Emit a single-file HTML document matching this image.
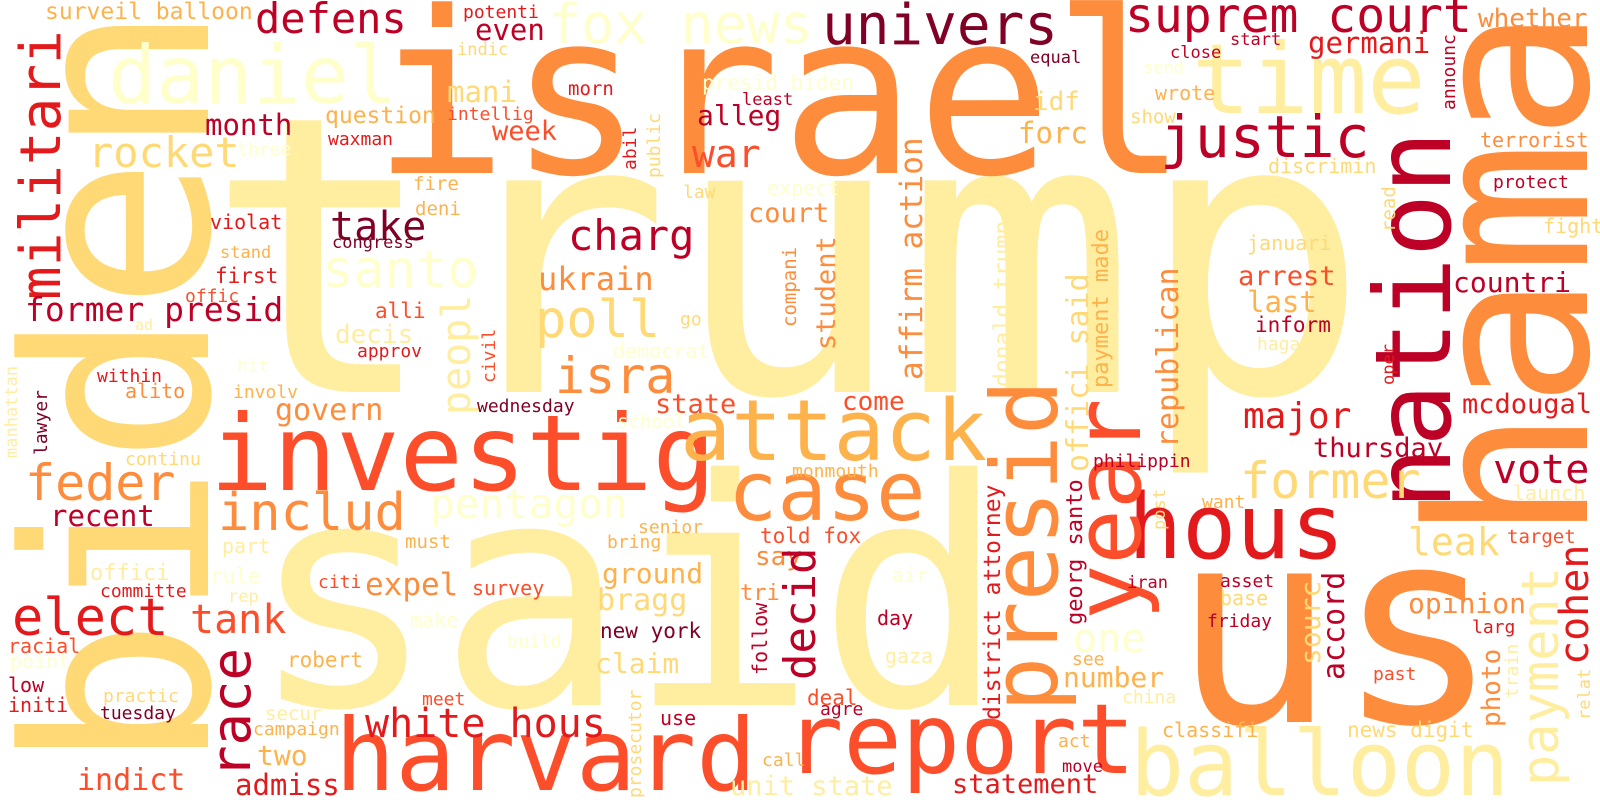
<!DOCTYPE html>
<html><head><meta charset="utf-8"><title>Word cloud</title>
<style>
html,body{margin:0;padding:0;background:#fff;}
svg{display:block;}
text{font-family:"DejaVu Sans Mono","Liberation Mono",monospace;}
</style></head>
<body>
<svg id="cloud" width="1600" height="800" viewBox="0 0 1600 800" xmlns="http://www.w3.org/2000/svg">
<rect x="0" y="0" width="1600" height="800" fill="#ffffff"/>
</svg>
<script>
const palette = {A:"#ffffcc",B:"#ffeda0",C:"#fed976",D:"#feb24c",E:"#fd8d3c",F:"#fc4e2a",G:"#e31a1c",H:"#bd0026",I:"#800026"};
// [word, x, baseline y, font-size, colour key, vertical?]
const words = [
["trump",205,392,387,"B",0],
["israel",372,173,226,"E",0],
["said",248,705,315,"B",0],
["biden",208,771,255,"C",1],
["hama",1587,542,222,"E",1],
["us",1172,722,272,"E",0],
["investig",210,490,105,"F",0],
["harvard",335,790,100,"F",0],
["report",785,773,97,"F",0],
["balloon",1130,795,90,"B",0],
["attack",680,460,85,"D",0],
["case",728,520,82,"E",0],
["hous",1128,558,90,"G",0],
["presid",1057,712,92,"E",1],
["year",1140,620,92,"F",1],
["nation",1450,510,105,"H",1],
["daniel",108,103,80,"A",0],
["fox news",548,43,55,"A",0],
["univers",822,44,56,"I",0],
["suprem court",1125,32,48,"H",0],
["time",1192,113,97,"B",0],
["justic",1160,157,58,"H",0],
["defens",255,33,42,"H",0],
["surveil balloon",45,19,23,"D",0],
["militari",60,300,56,"G",1],
["rocket",88,167,42,"C",0],
["month",205,135,29,"H",0],
["question",325,123,23,"D",0],
["waxman",328,145,18,"G",0],
["three",237,155,18,"A",0],
["take",330,240,40,"I",0],
["congress",332,248,17,"I",0],
["santo",322,287,52,"A",0],
["violat",210,229,20,"G",0],
["stand",220,258,17,"D",0],
["first",215,283,21,"G",0],
["offic",185,302,18,"F",0],
["former presid",25,321,33,"H",0],
["ad",135,330,15,"B",0],
["alli",375,318,21,"F",0],
["decis",335,343,26,"B",0],
["approv",357,357,18,"G",0],
["hit",237,372,18,"A",0],
["within",97,382,18,"G",0],
["alito",125,398,20,"E",0],
["involv",233,398,18,"D",0],
["manhattan",17,458,17,"B",1],
["lawyer",47,455,18,"I",1],
["govern",275,420,30,"E",0],
["continu",125,465,18,"C",0],
["feder",25,500,50,"E",0],
["includ",218,530,52,"E",0],
["recent",50,526,29,"H",0],
["part",222,553,20,"B",0],
["offici",90,580,22,"B",0],
["rule",210,583,21,"A",0],
["committe",100,597,18,"G",0],
["rep",228,602,17,"B",0],
["citi",318,588,18,"F",0],
["expel",365,595,31,"E",0],
["elect",12,635,52,"G",0],
["tank",190,633,40,"F",0],
["race",250,778,54,"H",1],
["racial",8,653,20,"F",0],
["point",10,668,20,"A",0],
["low",8,692,20,"H",0],
["initi",8,712,20,"G",0],
["practic",103,702,18,"C",0],
["tuesday",100,719,18,"I",0],
["robert",287,667,21,"D",0],
["secur",265,720,19,"B",0],
["campaign",253,735,18,"D",0],
["two",257,765,28,"D",0],
["indict",77,790,30,"F",0],
["admiss",235,795,29,"G",0],
["white hous",365,737,40,"G",0],
["pentagon",430,518,41,"A",0],
["peopl",470,415,40,"B",1],
["wednesday",477,412,18,"I",0],
["state",655,413,27,"F",0],
["school",617,428,19,"A",0],
["must",405,548,19,"D",0],
["senior",638,533,18,"D",0],
["bring",607,548,18,"D",0],
["ground",602,583,28,"D",0],
["survey",472,595,20,"F",0],
["bragg",597,610,30,"C",0],
["make",410,627,20,"A",0],
["new york",600,638,21,"I",0],
["build",507,647,18,"A",0],
["claim",595,673,28,"C",0],
["meet",422,705,18,"F",0],
["prosecutor",641,798,18,"C",1],
["use",660,725,20,"H",0],
["call",762,766,18,"D",0],
["unit state",730,795,27,"B",0],
["told fox",760,543,21,"F",0],
["say",755,565,26,"E",0],
["tri",740,600,22,"E",0],
["follow",767,675,20,"H",1],
["decid",815,680,44,"H",1],
["come",842,410,26,"F",0],
["monmouth",792,477,18,"D",0],
["air",892,582,20,"A",0],
["day",877,625,20,"H",0],
["gaza",885,663,20,"B",0],
["deal",807,705,21,"F",0],
["agre",820,715,18,"H",0],
["district attorney",1000,720,23,"G",1],
["georg santo",1082,625,22,"H",1],
["offici said",1088,472,30,"C",1],
["donald trump",1010,387,23,"B",1],
["payment made",1108,388,22,"D",1],
["palestinian",937,357,18,"B",1],
["affirm action",922,380,31,"E",1],
["student",835,350,27,"E",1],
["republican",1178,448,30,"E",1],
["idf",1033,110,26,"C",0],
["forc",1018,143,29,"D",0],
["equal",1030,63,17,"I",0],
["close",1170,58,17,"H",0],
["send",1143,73,17,"A",0],
["wrote",1155,100,20,"D",0],
["show",1130,123,19,"C",0],
["presid biden",702,90,21,"A",0],
["least",742,105,17,"H",0],
["alleg",697,125,28,"H",0],
["war",692,167,38,"F",0],
["morn",568,95,19,"G",0],
["mani",447,102,29,"C",0],
["intellig",447,120,18,"F",0],
["week",492,140,27,"F",0],
["even",475,40,29,"H",0],
["potenti",463,18,18,"G",0],
["indic",457,55,17,"C",0],
["abil",636,170,18,"G",1],
["public",660,178,18,"C",1],
["fire",413,190,19,"D",0],
["deni",415,215,19,"D",0],
["law",683,198,18,"C",0],
["expect",767,195,20,"A",0],
["court",748,222,27,"E",0],
["charg",568,250,42,"H",0],
["ukrain",538,290,32,"E",0],
["poll",535,337,52,"C",0],
["go",680,325,18,"C",0],
["democrat",613,358,20,"A",0],
["isra",555,393,50,"E",0],
["civil",495,383,18,"F",1],
["compani",796,327,19,"E",1],
["germani",1308,53,29,"G",0],
["start",1230,45,17,"H",0],
["whether",1478,27,26,"E",0],
["announc",1455,110,18,"H",1],
["terrorist",1480,147,20,"E",0],
["discrimin",1268,173,20,"C",0],
["protect",1493,188,18,"H",0],
["fight",1543,233,20,"C",0],
["read",1395,232,19,"C",1],
["januari",1247,250,20,"C",0],
["arrest",1238,285,27,"F",0],
["last",1247,312,29,"D",0],
["inform",1255,332,21,"H",0],
["hagari",1257,350,18,"B",0],
["oper",1394,385,17,"G",1],
["countri",1453,292,28,"H",0],
["mcdougal",1462,413,27,"G",0],
["major",1243,428,36,"G",0],
["thursday",1313,457,27,"H",0],
["former",1240,498,50,"C",0],
["vote",1493,483,40,"H",0],
["launch",1513,500,20,"B",0],
["want",1202,508,18,"D",0],
["leak",1408,555,38,"C",0],
["target",1507,543,19,"F",0],
["cohen",1588,665,40,"G",1],
["payment",1558,786,52,"B",1],
["sourc",1320,665,28,"C",1],
["accord",1344,680,30,"H",1],
["asset",1220,587,18,"H",0],
["base",1220,605,20,"C",0],
["friday",1207,627,18,"H",0],
["opinion",1408,613,28,"E",0],
["larg",1472,633,18,"G",0],
["photo",1500,727,26,"E",1],
["train",1518,698,18,"B",1],
["relat",1590,720,17,"C",1],
["past",1373,680,18,"F",0],
["news digit",1347,737,21,"C",0],
["classifi",1162,737,20,"D",0],
["act",1058,747,18,"D",0],
["move",1062,772,17,"H",0],
["statement",952,793,27,"G",0],
["philippin",1093,467,18,"H",0],
["post",1165,530,17,"C",1],
["iran",1127,588,17,"H",0],
["one",1073,652,40,"A",0],
["see",1072,665,18,"D",0],
["number",1063,687,28,"D",0],
["china",1122,703,18,"B",0]
];
const svg = document.getElementById('cloud');
const NS = "http://www.w3.org/2000/svg";
for (const w of words) {
  const t = document.createElementNS(NS, 'text');
  
  
  t.setAttribute('x', w[1]);
  t.setAttribute('y', w[2]);
  t.setAttribute('font-size', w[3]);
  t.setAttribute('fill', palette[w[4]]);
  if (w[5]) t.setAttribute('transform', 'rotate(-90 ' + w[1] + ' ' + w[2] + ')');
  t.textContent = w[0];
  svg.appendChild(t);
}
</script>
</body></html>
